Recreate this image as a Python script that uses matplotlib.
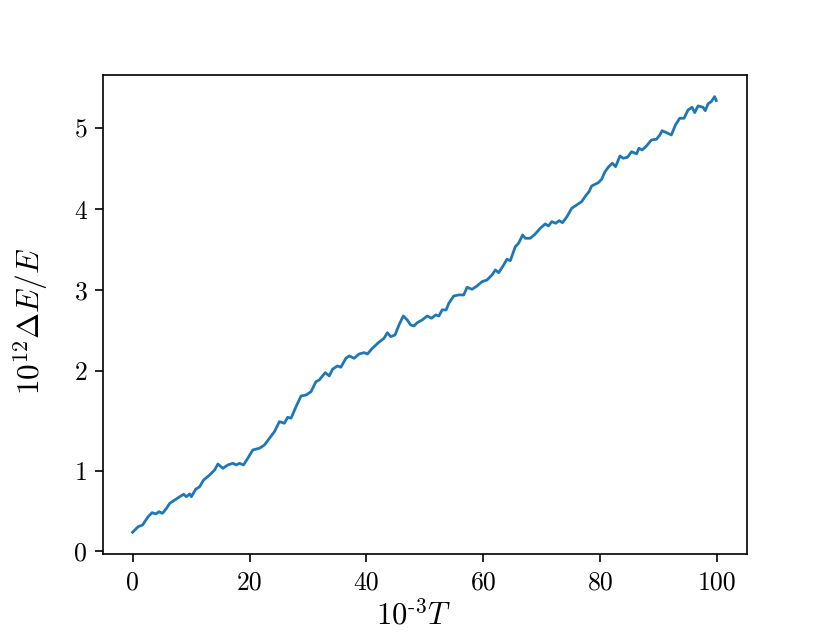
import matplotlib
matplotlib.use("Agg")
import matplotlib.pyplot as plt

# time in units of 10^3 T
t = [0.0, 0.95, 1.70, 2.66, 3.34, 3.97, 4.53, 5.11, 5.80, 6.36, 7.21, 8.06, 8.74, 9.20,
     9.77, 10.06, 10.79, 11.47, 12.15, 13.18, 14.03, 14.59, 15.44, 16.29, 17.15, 17.73,
     18.29, 18.97, 19.70, 20.56, 21.70, 22.55, 23.40, 24.26, 25.11, 25.96, 26.52, 27.10,
     27.95, 28.81, 29.66, 30.51, 31.36, 31.92, 32.95, 33.63, 34.19, 35.04, 35.62, 36.48,
     37.04, 37.89, 38.74, 39.60, 40.16, 41.01, 42.03, 43.00, 43.57, 44.15, 44.88, 45.56,
     46.29, 46.97, 47.55, 48.12, 48.68, 49.53, 50.38, 51.13, 51.82, 52.38, 52.94, 53.62,
     54.08, 54.93, 55.78, 56.64, 57.20, 58.05, 58.91, 59.76, 60.61, 61.46, 62.04, 62.61,
     63.46, 64.02, 64.60, 65.45, 66.01, 66.70, 67.16, 68.01, 68.86, 69.71, 70.56, 71.13,
     71.69, 72.37, 72.95, 73.51, 74.25, 75.10, 75.95, 76.80, 77.38, 78.06, 78.51, 79.65,
     80.21, 80.79, 81.35, 82.03, 82.60, 83.35, 83.91, 84.64, 85.33, 86.18, 86.59, 87.15,
     87.88, 88.73, 89.59, 90.17, 90.56, 91.29, 92.14, 92.83, 93.57, 94.31, 94.99, 95.67,
     96.13, 96.70, 97.55, 97.94, 98.40, 98.96, 99.54, 99.81]

# relative energy error (axis units)
dE = [0.228, 0.297, 0.318, 0.421, 0.471, 0.455, 0.483, 0.463, 0.525, 0.587, 0.628, 0.669,
      0.699, 0.669, 0.703, 0.669, 0.761, 0.793, 0.876, 0.938, 1.000, 1.074, 1.021, 1.062,
      1.083, 1.062, 1.083, 1.062, 1.145, 1.248, 1.269, 1.310, 1.393, 1.475, 1.599, 1.579,
      1.653, 1.641, 1.784, 1.917, 1.929, 1.970, 2.094, 2.115, 2.206, 2.165, 2.248, 2.289,
      2.273, 2.384, 2.413, 2.384, 2.437, 2.454, 2.437, 2.508, 2.577, 2.632, 2.701, 2.652,
      2.673, 2.797, 2.908, 2.859, 2.797, 2.784, 2.825, 2.859, 2.908, 2.880, 2.921, 2.908,
      2.983, 2.983, 3.066, 3.156, 3.169, 3.169, 3.264, 3.239, 3.280, 3.333, 3.354, 3.416,
      3.478, 3.445, 3.540, 3.611, 3.594, 3.767, 3.809, 3.912, 3.871, 3.871, 3.924, 3.995,
      4.048, 4.024, 4.077, 4.057, 4.089, 4.064, 4.135, 4.243, 4.284, 4.325, 4.387, 4.449,
      4.519, 4.560, 4.602, 4.696, 4.751, 4.801, 4.758, 4.891, 4.862, 4.875, 4.944, 4.916,
      4.986, 4.965, 5.015, 5.089, 5.098, 5.151, 5.204, 5.180, 5.151, 5.275, 5.358, 5.358,
      5.461, 5.494, 5.428, 5.511, 5.494, 5.452, 5.536, 5.564, 5.626, 5.576]

ytick_pos = [0, 0.99, 2.23, 3.23, 4.23, 5.24]
ytick_labels = ["0", "1", "2", "3", "4", "5"]
xticks = [0, 20, 40, 60, 80, 100]

plt.rcParams["font.family"] = "serif"
plt.rcParams["font.serif"] = ["cmr10"]
plt.rcParams["mathtext.fontset"] = "cm"
plt.rcParams["axes.unicode_minus"] = False

fig = plt.figure(figsize=(8.3, 6.33), dpi=100)
ax = fig.add_axes([0.1245, 0.1243, 0.775, 0.758])

ax.plot(t, dE, color="#1f77b4", linewidth=2.0)

ax.set_xlim(-5, 105)
ax.set_ylim(-0.045, 5.9)
ax.set_xticks(xticks)
ax.set_xticklabels([str(v) for v in xticks])
ax.set_yticks(ytick_pos)
ax.set_yticklabels(ytick_labels)

ax.tick_params(labelsize=18.5, length=5.5, width=1.2, pad=6)
for s in ax.spines.values():
    s.set_linewidth(1.2)

ax.set_xlabel(r"10$^{\mathrm{\text{-}3}}T$", fontsize=22)
ax.set_ylabel(r"$10^{12}\Delta E/E$", fontsize=22.5)
ax.xaxis.set_label_coords(0.483, -0.094)
ax.yaxis.set_label_coords(-0.082, 0.486)

fig.savefig("out.png", dpi=100)
